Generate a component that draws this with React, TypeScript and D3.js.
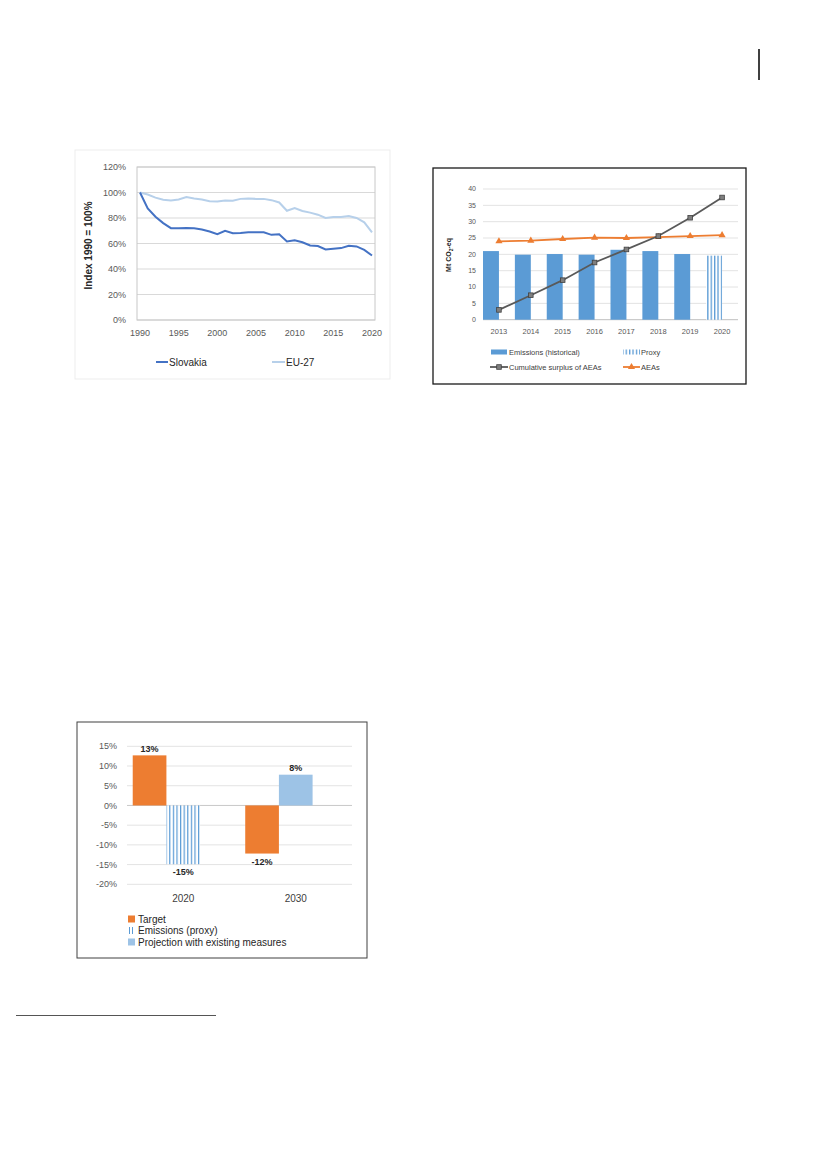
import React from 'react';
import * as d3 from 'd3';

// ---------- Chart 1 data ----------
const years1 = [1990, 1991, 1992, 1993, 1994, 1995, 1996, 1997, 1998, 1999, 2000, 2001, 2002, 2003, 2004, 2005, 2006, 2007, 2008, 2009, 2010, 2011, 2012, 2013, 2014, 2015, 2016, 2017, 2018, 2019, 2020];
const slovakia = [100, 87.5, 81, 76, 72, 72, 72.2, 72, 71, 69.4, 67.3, 70, 68, 68.3, 68.8, 68.8, 68.8, 66.8, 67.3, 61.6, 62.6, 61, 58.4, 58, 55.3, 55.8, 56.4, 58.2, 57.7, 55, 50.6];
const eu27 = [100, 98.4, 96, 94.3, 93.8, 94.5, 96.4, 95.3, 94.5, 93.2, 93, 93.8, 93.5, 95, 95.3, 95, 95, 94, 92.2, 85.7, 87.8, 85.5, 84.2, 82.6, 80, 80.8, 80.8, 81.6, 80, 76.6, 68.8];
const yTicks1 = [0, 20, 40, 60, 80, 100, 120];
const xTicks1 = [1990, 1995, 2000, 2005, 2010, 2015, 2020];

// ---------- Chart 2 data ----------
const years2 = ['2013', '2014', '2015', '2016', '2017', '2018', '2019', '2020'];
const emissions = [21.0, 19.9, 20.1, 19.9, 21.4, 21.0, 20.1, null];
const proxy2 = [null, null, null, null, null, null, null, 19.6];
const surplus = [3.0, 7.5, 12.1, 17.5, 21.5, 25.6, 31.2, 37.4];
const aeas = [24.0, 24.2, 24.7, 25.1, 25.0, 25.3, 25.6, 25.9];
const yTicks2 = [0, 5, 10, 15, 20, 25, 30, 35, 40];

// ---------- Chart 3 data ----------
const cats3 = ['2020', '2030'];
const target = [12.7, -12.2];
const proxy3 = [-14.9, null];
const projection = [null, 7.8];
const yTicks3 = [15, 10, 5, 0, -5, -10, -15, -20];

const FONT = '"Liberation Sans", Arial, sans-serif';
const BLUE = '#5B9BD5';
const ORANGE = '#ED7D31';

function Chart1() {
  const x = d3.scaleLinear().domain([1990, 2020]).range([140, 372]);
  const y = d3.scaleLinear().domain([0, 120]).range([320, 167]);
  const line = d3.line<number>().x((_, i) => x(years1[i])).y(d => y(d));
  return (
    <g>
      <rect x={75} y={150} width={315} height={229} fill="none" stroke="#EDEDED" strokeWidth={1} />
      {yTicks1.map(t => (
        <g key={t}>
          <line x1={137} x2={375} y1={y(t)} y2={y(t)} stroke="#D9D9D9" strokeWidth={1} />
          <text x={126} y={y(t)} dy="0.35em" textAnchor="end" fontSize={9} fill="#595959">{t}%</text>
        </g>
      ))}
      <rect x={137} y={y(120)} width={238} height={y(0) - y(120)} fill="none" stroke="#C8C8C8" strokeWidth={1} />
      {xTicks1.map(t => (
        <text key={t} x={x(t)} y={333} dy="0.35em" textAnchor="middle" fontSize={9} fill="#595959">{t}</text>
      ))}
      <path d={line(eu27) || ''} fill="none" stroke="#B7D0EA" strokeWidth={2} />
      <path d={line(slovakia) || ''} fill="none" stroke="#4472C4" strokeWidth={2} />
      <text transform={`translate(92,${y(60) + 2}) rotate(-90)`} textAnchor="middle" fontSize={10} fontWeight="bold" fill="#262626">Index 1990 = 100%</text>
      <line x1={156} x2={168} y1={362} y2={362} stroke="#4472C4" strokeWidth={2} />
      <text x={169} y={362} dy="0.35em" fontSize={10} fill="#262626">Slovakia</text>
      <line x1={272} x2={285} y1={362} y2={362} stroke="#B7D0EA" strokeWidth={2} />
      <text x={286} y={362} dy="0.35em" fontSize={10} fill="#262626">EU-27</text>
    </g>
  );
}

function Chart2() {
  const x = d3.scaleBand<string>().domain(years2).range([483, 738]).padding(0);
  const bw = x.bandwidth();
  const y = d3.scaleLinear().domain([0, 40]).range([319.7, 189]);
  const cx = (c: string) => (x(c) as number) + bw / 2;
  const barW = bw * 0.5;
  const line = d3.line<number>().x((_, i) => cx(years2[i])).y(d => y(d));
  const tri = d3.symbol().type(d3.symbolTriangle).size(22)();
  return (
    <g>
      <defs>
        <pattern id="stripes2" patternUnits="userSpaceOnUse" width={3.4} height={10}>
          <rect width={3.4} height={10} fill="#FFFFFF" />
          <rect x={0} width={1.3} height={10} fill={BLUE} />
        </pattern>
      </defs>
      <rect x={433} y={168} width={313} height={216} fill="#fff" stroke="#1a1a1a" strokeWidth={1.3} />
      {yTicks2.map(t => (
        <g key={t}>
          <line x1={483} x2={738} y1={y(t)} y2={y(t)} stroke={t === 0 ? '#BFBFBF' : '#E3E3E3'} strokeWidth={1} />
          <text x={476} y={y(t)} dy="0.35em" textAnchor="end" fontSize={7} fill="#595959">{t}</text>
        </g>
      ))}
      {years2.map(c => (
        <text key={c} x={cx(c)} y={331} dy="0.35em" textAnchor="middle" fontSize={7.5} fill="#595959">{c}</text>
      ))}
      {emissions.map((v, i) => v == null ? null : (
        <rect key={i} x={cx(years2[i]) - barW} y={y(v)} width={barW} height={y(0) - y(v)} fill={BLUE} />
      ))}
      {proxy2.map((v, i) => v == null ? null : (
        <rect key={i} x={cx(years2[i]) - barW} y={y(v)} width={barW} height={y(0) - y(v)} fill="url(#stripes2)" />
      ))}
      <path d={line(aeas) || ''} fill="none" stroke={ORANGE} strokeWidth={1.8} />
      {aeas.map((v, i) => (
        <path key={i} d={tri || ''} transform={`translate(${cx(years2[i])},${y(v)})`} fill={ORANGE} />
      ))}
      <path d={line(surplus) || ''} fill="none" stroke="#595959" strokeWidth={1.8} />
      {surplus.map((v, i) => (
        <rect key={i} x={cx(years2[i]) - 2.3} y={y(v) - 2.3} width={4.6} height={4.6} fill="#7F7F7F" stroke="#404040" strokeWidth={0.8} />
      ))}
      <text transform={`translate(451,255) rotate(-90)`} textAnchor="middle" fontSize={7} fontWeight="bold" fill="#262626">
        Mt CO<tspan fontSize={5} dy={1.5}>2</tspan><tspan dy={-1.5}>-eq</tspan>
      </text>
      {/* legend */}
      <rect x={491} y={349.5} width={16} height={5} fill={BLUE} />
      <text x={509} y={352} dy="0.35em" fontSize={7.5} fill="#404040">Emissions (historical)</text>
      <rect x={623} y={349.5} width={17} height={5} fill="url(#stripes2)" />
      <text x={641} y={352} dy="0.35em" fontSize={7.5} fill="#404040">Proxy</text>
      <line x1={490} x2={508} y1={367} y2={367} stroke="#595959" strokeWidth={1.8} />
      <rect x={496.7} y={364.7} width={4.6} height={4.6} fill="#7F7F7F" stroke="#404040" strokeWidth={0.8} />
      <text x={509} y={367} dy="0.35em" fontSize={7.5} fill="#404040">Cumulative surplus of AEAs</text>
      <line x1={623} x2={640} y1={367} y2={367} stroke={ORANGE} strokeWidth={1.8} />
      <path d={tri || ''} transform="translate(631.5,367)" fill={ORANGE} />
      <text x={641} y={367} dy="0.35em" fontSize={7.5} fill="#404040">AEAs</text>
    </g>
  );
}

function Chart3() {
  const x0 = d3.scaleBand<string>().domain(cats3).range([127, 352]).padding(0);
  const x1 = d3.scaleBand<string>().domain(['s0', 's1', 's2']).range([0, x0.bandwidth()]).paddingInner(0).paddingOuter(0.17);
  const w = x1.bandwidth();
  const y = d3.scaleLinear().domain([-20, 15]).range([884.3, 746.3]);
  const bar = (v: number | null, i: number, slot: string, fill: string, key: string, labelBelow: boolean) => {
    if (v == null) return null;
    const bx = (x0(cats3[i]) as number) + (x1(slot) as number);
    const top = Math.min(y(v), y(0));
    const h = Math.abs(y(v) - y(0));
    const ly = v >= 0 ? y(v) - 7 : y(v) + 8;
    return (
      <g key={key}>
        <rect x={bx} y={top} width={w} height={h} fill={fill} />
        <text x={bx + w / 2} y={ly} dy="0.35em" textAnchor="middle" fontSize={9} fontWeight="bold" fill="#262626">{Math.round(v)}%</text>
      </g>
    );
  };
  return (
    <g>
      <defs>
        <pattern id="stripes3" patternUnits="userSpaceOnUse" width={3.6} height={10}>
          <rect width={3.6} height={10} fill="#FFFFFF" />
          <rect x={0} width={1.2} height={10} fill={BLUE} />
        </pattern>
      </defs>
      <rect x={77} y={722} width={290} height={236} fill="#fff" stroke="#404040" strokeWidth={1} />
      {yTicks3.map(t => (
        <g key={t}>
          <line x1={127} x2={352} y1={y(t)} y2={y(t)} stroke={t === 0 ? '#C8C8C8' : '#E3E3E3'} strokeWidth={1} />
          <text x={117} y={y(t)} dy="0.35em" textAnchor="end" fontSize={9} fill="#595959">{t}%</text>
        </g>
      ))}
      {cats3.map(c => (
        <text key={c} x={(x0(c) as number) + x0.bandwidth() / 2} y={898} dy="0.35em" textAnchor="middle" fontSize={10} fill="#404040">{c}</text>
      ))}
      {target.map((v, i) => bar(v, i, 's0', ORANGE, 't' + i, v < 0))}
      {proxy3.map((v, i) => bar(v, i, 's1', 'url(#stripes3)', 'p' + i, true))}
      {projection.map((v, i) => bar(v, i, 's1', '#9DC3E6', 'j' + i, false))}
      {/* legend */}
      <rect x={128} y={915.5} width={7} height={7} fill={ORANGE} />
      <text x={138} y={919} dy="0.35em" fontSize={10} fill="#262626">Target</text>
      <rect x={129} y={927} width={1} height={7} fill={BLUE} />
      <rect x={132} y={927} width={1} height={7} fill={BLUE} />
      <text x={138} y={930.5} dy="0.35em" fontSize={10} fill="#262626">Emissions (proxy)</text>
      <rect x={128} y={938.5} width={7} height={7} fill="#9DC3E6" />
      <text x={138} y={942} dy="0.35em" fontSize={10} fill="#262626">Projection with existing measures</text>
    </g>
  );
}

export default function App() {
  return (
    <svg width={827} height={1169} style={{ position: 'absolute', left: 0, top: 0, background: '#fff' }} fontFamily={FONT}>
      <rect width={827} height={1169} fill="#fff" />
      <line x1={759} x2={759} y1={49} y2={80} stroke="#000" strokeWidth={1.5} />
      <Chart1 />
      <Chart2 />
      <Chart3 />
      <line x1={16} x2={216} y1={1015.5} y2={1015.5} stroke="#555" strokeWidth={1.2} />
    </svg>
  );
}
